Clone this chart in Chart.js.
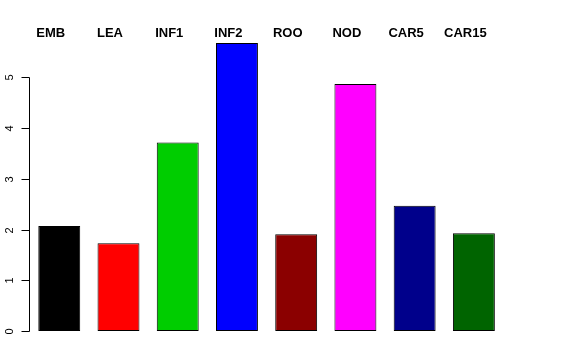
<!DOCTYPE html>
<html>
<head>
<meta charset="utf-8">
<script src="https://cdn.jsdelivr.net/npm/chart.js@4/dist/chart.umd.min.js"></script>
<style>
html,body{margin:0;padding:0;background:#fff;}
canvas{display:block;}
</style>
</head>
<body>
<canvas id="c" width="576" height="360"></canvas>
<script>
const categories = ["EMB","LEA","INF1","INF2","ROO","NOD","CAR5","CAR15"];
const values = [2.07, 1.73, 3.72, 5.68, 1.91, 4.87, 2.47, 1.93];
const barColors = ["#000000","#FF0000","#00CD00","#0000FF","#8B0000","#FF00FF","#00008B","#006400"];
const yTickValues = [0,1,2,3,4,5];

const rAxisPlugin = {
  id: 'rAxis',
  afterDraw(chart) {
    const ctx = chart.ctx;
    const y = chart.scales.y;
    const x = chart.scales.x;
    ctx.save();
    ctx.strokeStyle = '#000';
    ctx.lineWidth = 1;
    const ax = 29.5;
    ctx.beginPath();
    ctx.moveTo(ax, Math.round(y.getPixelForValue(yTickValues[0])) + 0.5);
    ctx.lineTo(ax, Math.round(y.getPixelForValue(yTickValues[yTickValues.length-1])) + 0.5);
    ctx.stroke();
    ctx.font = '11px "Liberation Sans", Arial, sans-serif';
    ctx.fillStyle = '#000';
    ctx.textAlign = 'center';
    ctx.textBaseline = 'middle';
    yTickValues.forEach(v => {
      const py = Math.round(y.getPixelForValue(v)) + 0.5;
      ctx.beginPath();
      ctx.moveTo(ax, py);
      ctx.lineTo(ax - 8, py);
      ctx.stroke();
      ctx.save();
      ctx.translate(10, py);
      ctx.rotate(-Math.PI/2);
      ctx.fillText(String(v), 0, 0);
      ctx.restore();
    });
    ctx.font = 'bold 13px "Liberation Sans", Arial, sans-serif';
    ctx.textBaseline = 'alphabetic';
    categories.forEach((c, i) => {
      ctx.fillText(c, x.getPixelForValue(i) - 8.5, 36.5);
    });
    ctx.restore();
  }
};

new Chart(document.getElementById('c'), {
  type: 'bar',
  data: {
    labels: categories,
    datasets: [{
      data: values,
      backgroundColor: barColors,
      borderColor: '#000000',
      borderWidth: 1,
      borderSkipped: false,
      barPercentage: 0.708,
      categoryPercentage: 1.0
    }]
  },
  options: {
    responsive: false,
    animation: false,
    devicePixelRatio: 1,
    layout: { padding: { left: 0, right: 72.5, top: 26.8, bottom: 29 } },
    plugins: { legend: { display: false }, tooltip: { enabled: false } },
    scales: {
      x: { display: false, offset: true },
      y: {
        min: 0, max: 6,
        ticks: { display: false, stepSize: 1 },
        grid: { display: false },
        border: { display: false },
        afterFit(scale) { scale.width = 29.65; }
      }
    }
  },
  plugins: [rAxisPlugin]
});
</script>
</body>
</html>
